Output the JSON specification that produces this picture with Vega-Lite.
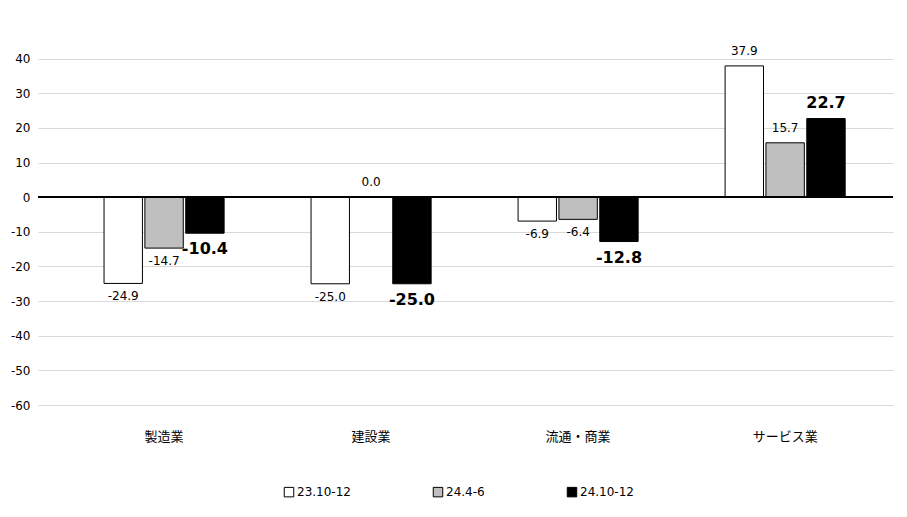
{
  "$schema": "https://vega.github.io/schema/vega-lite/v6.json",
  "width": 855,
  "height": 381,
  "autosize": "none",
  "padding": {"left": 38, "top": 24, "right": 14, "bottom": 112},
  "background": "white",
  "config": {
    "view": {"stroke": null},
    "font": "DejaVu Sans",
    "locale": {"number": {"decimal": ".", "thousands": ",", "grouping": [3], "currency": ["$", ""], "minus": "-"}},
    "axis": {"labelFont": "DejaVu Sans", "labelFontSize": 12, "labelColor": "#000"}
  },
  "data": {
    "values": [
      {"cat": "製造業", "s": "23.10-12", "i": 1, "v": -24.9},
      {"cat": "製造業", "s": "24.4-6", "i": 2, "v": -14.7},
      {"cat": "製造業", "s": "24.10-12", "i": 3, "v": -10.4},
      {"cat": "建設業", "s": "23.10-12", "i": 1, "v": -25.0},
      {"cat": "建設業", "s": "24.4-6", "i": 2, "v": 0.0},
      {"cat": "建設業", "s": "24.10-12", "i": 3, "v": -25.0},
      {"cat": "流通・商業", "s": "23.10-12", "i": 1, "v": -6.9},
      {"cat": "流通・商業", "s": "24.4-6", "i": 2, "v": -6.4},
      {"cat": "流通・商業", "s": "24.10-12", "i": 3, "v": -12.8},
      {"cat": "サービス業", "s": "23.10-12", "i": 1, "v": 37.9},
      {"cat": "サービス業", "s": "24.4-6", "i": 2, "v": 15.7},
      {"cat": "サービス業", "s": "24.10-12", "i": 3, "v": 22.7}
    ]
  },
  "encoding": {
    "x": {
      "field": "cat", "type": "nominal", "sort": null, "title": null,
      "scale": {"paddingInner": 0.42, "paddingOuter": 0.275, "align": 0.58},
      "axis": {"orient": "bottom", "domain": false, "ticks": false, "labelAngle": 0, "labelFont": "Noto Sans CJK JP", "labelFontSize": 13, "labelPadding": 25}
    },
    "xOffset": {"field": "s", "type": "nominal", "sort": ["23.10-12", "24.4-6", "24.10-12"], "scale": {"paddingInner": 0.06}},
    "y": {
      "field": "v", "type": "quantitative", "title": null,
      "scale": {"domain": [-60, 50], "nice": false},
      "axis": {"values": [-60, -50, -40, -30, -20, -10, 0, 10, 20, 30, 40], "domain": false, "ticks": false, "gridColor": "#d9d9d9", "labelPadding": 8}
    }
  },
  "layer": [
    {
      "mark": {"type": "bar", "stroke": "black", "strokeWidth": 1},
      "encoding": {
        "color": {
          "field": "s", "type": "nominal", "sort": ["23.10-12", "24.4-6", "24.10-12"],
          "scale": {"domain": ["23.10-12", "24.4-6", "24.10-12"], "range": ["white", "#bfbfbf", "black"]},
          "legend": {"orient": "none", "legendX": 245, "legendY": 462, "direction": "horizontal", "title": null, "symbolType": "square", "symbolStrokeColor": "black", "symbolStrokeWidth": 1, "symbolSize": 90, "labelFontSize": 12, "columnPadding": 80, "labelOffset": 2}
        }
      }
    },
    {
      "mark": {"type": "rule", "color": "black", "strokeWidth": 1.5},
      "encoding": {"y": {"datum": 0}, "x": null, "xOffset": null}
    },
    {
      "transform": [{"filter": "datum.i < 3 && datum.v >= 0"}],
      "mark": {"type": "text", "baseline": "bottom", "dy": -8, "fontSize": 12},
      "encoding": {"text": {"field": "v", "format": ".1f"}}
    },
    {
      "transform": [{"filter": "datum.i < 3 && datum.v < 0"}],
      "mark": {"type": "text", "baseline": "top", "dy": 8, "fontSize": 12},
      "encoding": {"text": {"field": "v", "format": ".1f"}}
    },
    {
      "transform": [{"filter": "datum.i == 3 && datum.v >= 0"}],
      "mark": {"type": "text", "baseline": "bottom", "dy": -8, "fontSize": 16, "fontWeight": "bold"},
      "encoding": {"text": {"field": "v", "format": ".1f"}}
    },
    {
      "transform": [{"filter": "datum.i == 3 && datum.v < 0"}],
      "mark": {"type": "text", "baseline": "top", "dy": 8, "fontSize": 16, "fontWeight": "bold"},
      "encoding": {"text": {"field": "v", "format": ".1f"}}
    }
  ]
}
